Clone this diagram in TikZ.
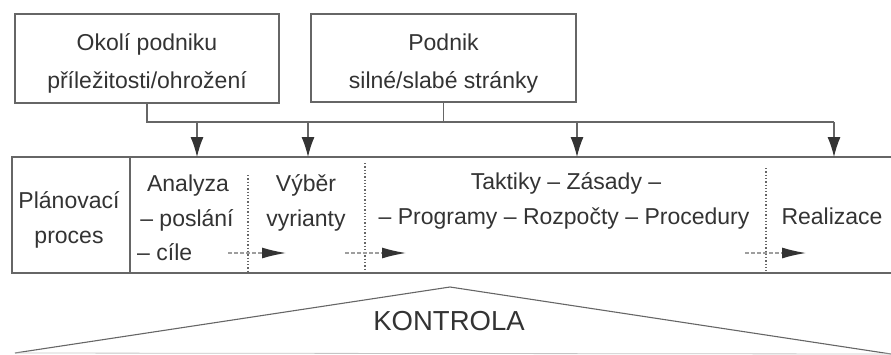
\documentclass[tikz,border=0pt]{standalone}
\usepackage{fontspec}
\setmainfont{Liberation Sans}
\usetikzlibrary{arrows.meta}
\definecolor{ink}{gray}{0.2}
\definecolor{rule}{gray}{0.4}
\definecolor{faint}{gray}{0.62}
\begin{document}
\begin{tikzpicture}[x=1pt,y=-1pt,
  txt/.style={font=\fontsize{23}{27}\selectfont, text=ink, inner sep=0pt, anchor=base},
  frame/.style={draw=rule, line width=1.2pt},
  topbox/.style={frame, inner sep=0pt},
  feed/.style={draw=rule, line width=1.1pt},
  down/.style={feed, -{Latex[length=20pt,width=13pt,color=ink]}},
  flow/.style={draw=faint, line width=1.3pt, dash pattern=on 4pt off 2pt,
    -{Latex[length=24pt,width=11pt,color=ink]}},
  divider/.style={draw=rule, line width=1.3pt, dotted}
]
\useasboundingbox (0,0) rectangle (891,354);

% the two input boxes
\node[topbox, minimum width=264pt, minimum height=89pt] (env) at (147,58.5) {};
\node[txt] (envA) at (147,50) {Okolí podniku};
\node[txt] (envB) at (147,88) {příležitosti/ohrožení};

\node[topbox, minimum width=265pt, minimum height=88pt] (firm) at (443.5,58) {};
\node[txt] (firmA) at (443.5,50) {Podnik};
\node[txt] (firmB) at (443.5,88) {silné/slabé stránky};

% distribution bus
\coordinate (busL) at (147,122);
\coordinate (busR) at (834,122);
\coordinate (tap1) at (197,122);
\coordinate (tap2) at (308,122);
\coordinate (tap3) at (577,122);
\draw[feed] (env.south) -- (busL) -- (busR);
\draw[feed] (firm.south) -- (firm.south |- busL);

% main process strip (open on the right)
\coordinate (mNW) at (12,157);
\coordinate (mNE) at (891,157);
\coordinate (mSW) at (12,273);
\coordinate (mSE) at (891,273);
\draw[frame] (mNE) -- (mNW) -- (mSW) -- (mSE);
\coordinate (sepT) at (130,157);
\coordinate (sepB) at (130,273);
\draw[frame] (sepT) -- (sepB);

% arrows from the bus into the strip
\coordinate (in1) at (197,157);
\coordinate (in2) at (308,157);
\coordinate (in3) at (577,157);
\coordinate (in4) at (834,157);
\draw[down] (tap1) -- (in1);
\draw[down] (tap2) -- (in2);
\draw[down] (tap3) -- (in3);
\draw[down] (busR) -- (in4);

% dotted column dividers
\coordinate (d1t) at (248,175); \coordinate (d1b) at (248,271);
\coordinate (d2t) at (365,163); \coordinate (d2b) at (365,271);
\coordinate (d3t) at (766,168); \coordinate (d3b) at (766,271);
\draw[divider] (d1t) -- (d1b);
\draw[divider] (d2t) -- (d2b);
\draw[divider] (d3t) -- (d3b);

% column texts
\node[txt] (plan1) at (69,208) {Plánovací};
\node[txt] (plan2) at (69,243) {proces};

\node[txt] (an1) at (188,191) {Analyza};
\node[txt] (an2) at (187,226) {– poslání};
\node[txt, anchor=base west] (an3) at (137,260) {– cíle};

\node[txt] (vy1) at (306,191) {Výběr};
\node[txt] (vy2) at (306,226) {vyrianty};

\node[txt] (tk1) at (566,189) {Taktiky – Zásady –};
\node[txt] (tk2) at (564,224) {– Programy – Rozpočty – Procedury};

\node[txt] (re1) at (832,224) {Realizace};

% flow arrows along the strip
\coordinate (f1a) at (228,253); \coordinate (f1b) at (286,253);
\coordinate (f2a) at (345,253); \coordinate (f2b) at (406,253);
\coordinate (f3a) at (745,253); \coordinate (f3b) at (806,253);
\draw[flow] (f1a) -- (f1b);
\draw[flow] (f2a) -- (f2b);
\draw[flow] (f3a) -- (f3b);

% control roof
\coordinate (apex) at (450,287);
\coordinate (roofL) at (15,353);
\coordinate (roofR) at (891,354);
\draw[draw=rule, line width=1.1pt] (roofL) -- (apex) -- (roofR);
\draw[draw=faint!60, line width=0.8pt] (roofL) -- (roofR);
\node[txt, font=\fontsize{27.5}{30}\selectfont] (ctrl) at (449,330) {KONTROLA};
\end{tikzpicture}
\end{document}
